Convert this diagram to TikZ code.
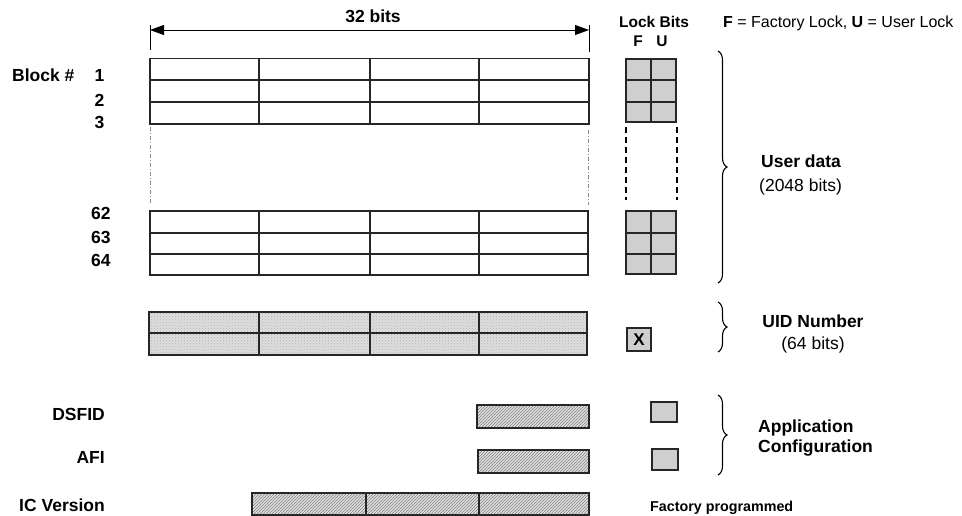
\documentclass[tikz,border=0pt]{standalone}
\usepackage{fontspec}
\setmainfont{Liberation Sans}
\usetikzlibrary{arrows.meta,patterns,decorations.pathreplacing}
\begin{document}
\begin{tikzpicture}[x=1pt,y=-1pt,
  lbl/.style={font=\fontsize{17.5}{20}\selectfont\bfseries, inner sep=0pt, anchor=base west},
  lblr/.style={lbl, anchor=base east},
  reg/.style={font=\fontsize{17.5}{20}\selectfont, inner sep=0pt, anchor=base west},
  small/.style={font=\fontsize{15.5}{18}\selectfont\bfseries, inner sep=0pt, anchor=base},
  tbl/.style={line width=1.5pt, draw=black!85},
  lockcell/.style={line width=1.5pt, draw=black!85, fill=black!19},
  hatchbox/.style={line width=1.5pt, draw=black!85, fill=black!12},
  brc/.style={decorate, decoration={brace, amplitude=9pt}, line width=1.1pt},
  edgeline/.style={draw=black!45, line width=0.8pt, dash pattern=on 4pt off 2pt on 1pt off 2pt},
  lockdash/.style={line width=1.5pt, dash pattern=on 6pt off 4pt}
]
\useasboundingbox (0,0) rectangle (962,516);

% 32 bits dimension
\coordinate (al) at (150,30);
\coordinate (ar) at (589,30);
\draw[line width=0.8pt, {Triangle[length=14pt,width=10pt]}-{Triangle[length=14pt,width=10pt]}] (al) -- (ar);
\draw[line width=0.8pt] (150,25) -- (150,50);
\draw[line width=0.8pt] (589,25) -- (589,52);
\node[lbl, anchor=base] (bits) at (373,23) {32 bits};

% legend
\node[small] (lockbits) at (654,28) {Lock Bits};
\node[small] (fl) at (638,47) {F};
\node[small] (ul) at (662,47) {U};
\node[font=\fontsize{16}{18}\selectfont, inner sep=0pt, anchor=base west] (legend) at (723,28) {\textbf{F} = Factory Lock, \textbf{U} = User Lock};

% block labels
\node[lbl] (block) at (12,82) {Block \#};
\node[lbl] (b1) at (94.5,82) {1};
\node[lbl] (b2) at (94.5,106.5) {2};
\node[lbl] (b3) at (94.5,129) {3};
\node[lbl] (b62) at (91,220) {62};
\node[lbl] (b63) at (91,243.5) {63};
\node[lbl] (b64) at (91,266) {64};

% top table
\draw[tbl] (150,58.5) rectangle (589,124);
\foreach \y in {80,102} \draw[tbl] (150,\y) -- (589,\y);
\foreach \x in {259,370,479} \draw[tbl] (\x,58.5) -- (\x,124);
% continuation edges
\draw[edgeline] (150,127) -- (150,203);
\draw[edgeline] (588,130) -- (588,205);
% bottom table
\draw[tbl] (150,211) rectangle (588,275);
\foreach \y in {233,254} \draw[tbl] (150,\y) -- (588,\y);
\foreach \x in {259,370,479} \draw[tbl] (\x,211) -- (\x,275);

% lock grids
\draw[lockcell] (626,59) rectangle (676,122);
\foreach \y in {80,102} \draw[tbl] (626,\y) -- (676,\y);
\draw[tbl] (651,59) -- (651,122);
\draw[lockdash] (626,127) -- (626,200);
\draw[lockdash] (677,127) -- (677,200);
\draw[lockcell] (626,211) rectangle (676,274);
\foreach \y in {233,254} \draw[tbl] (626,\y) -- (676,\y);
\draw[tbl] (651,211) -- (651,274);

% UID
\fill[black!13] (149,312) rectangle (587,355);
\fill[pattern=crosshatch dots, pattern color=black!30] (149,312) rectangle (587,355);
\draw[tbl] (149,312) rectangle (587,355);
\draw[tbl] (149,333) -- (587,333);
\foreach \x in {259,370,479} \draw[tbl] (\x,312) -- (\x,355);
\node[lockcell, minimum width=24pt, minimum height=23pt, inner sep=0pt, font=\fontsize{17}{19}\selectfont\bfseries] (xbox) at (639,339.5) {X};

% DSFID / AFI / IC version
\node[lblr] (dsfid) at (105,420) {DSFID};
\node[lblr] (afi) at (105,463) {AFI};
\node[lblr] (icv) at (105,511) {IC Version};
\draw[hatchbox] (477,405) rectangle (589,428);
\fill[pattern=north east lines, pattern color=black!50] (477,405) rectangle (589,428);
\draw[tbl] (477,405) rectangle (589,428);
\draw[hatchbox] (478,450) rectangle (589,473);
\fill[pattern=north east lines, pattern color=black!50] (478,450) rectangle (589,473);
\draw[tbl] (478,450) rectangle (589,473);
\draw[hatchbox] (252,493) rectangle (589,515);
\fill[pattern=north east lines, pattern color=black!50] (252,493) rectangle (589,515);
\draw[tbl] (252,493) rectangle (589,515);
\foreach \x in {366,479} \draw[tbl] (\x,493) -- (\x,515);
\draw[lockcell] (651,402) rectangle (677,422);
\draw[lockcell] (652,449) rectangle (678,470);
\node[font=\fontsize{14.3}{16}\selectfont\bfseries, inner sep=0pt, anchor=base west] (factory) at (650,511) {Factory programmed};

% braces
\draw[brc] (718,51) -- (718,283);
\draw[brc] (718,302) -- (718,352);
\draw[brc] (718,395) -- (718,475);

% right labels
\node[lbl] (user) at (761,168) {User data};
\node[reg] (ubits) at (759,192) {(2048 bits)};
\node[lbl, anchor=base] (uid) at (813,327) {UID Number};
\node[reg, anchor=base] (uidbits) at (813,349) {(64 bits)};
\node[lbl] (app) at (758,432) {Application};
\node[lbl] (conf) at (758,452) {Configuration};
\end{tikzpicture}
\end{document}
